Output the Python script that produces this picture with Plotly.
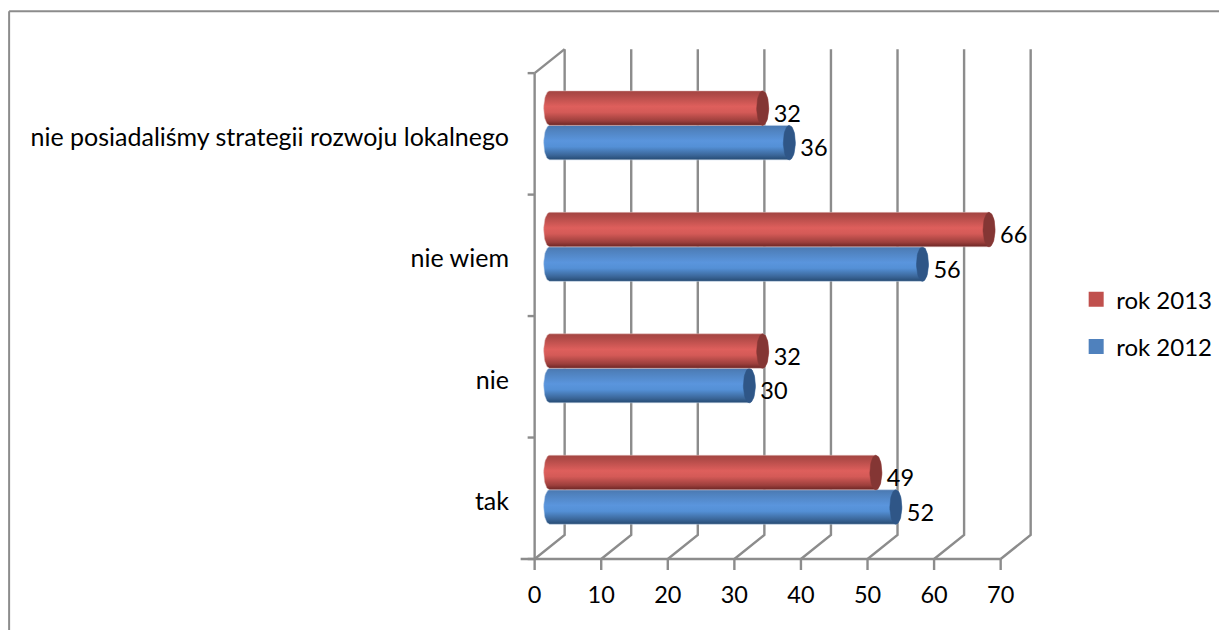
import plotly.graph_objects as go
import numpy as np

categories = ["tak", "nie", "nie wiem", "nie posiadaliśmy strategii rozwoju lokalnego"]
rok_2012 = [52, 30, 56, 36]
rok_2013 = [49, 32, 66, 32]
x_ticks = [0, 10, 20, 30, 40, 50, 60, 70]

# the page has an 8 px body margin: figure coordinates = screen - 8
PAGE = 8
W, H = 1227 - PAGE, 630 - PAGE
X0, X70 = 534.5, 1000.5
Y_BOTTOM, Y_TOP = 559.0, 73.0
PXU = (X70 - X0) / 70
PYU = (Y_BOTTOM - Y_TOP) / 4
DX = 30 / PXU
DY = 24 / PYU
BAR_DX = 15 / PXU
BAR_DY = 8.5 / PYU
BAR_H = 34.5 / PYU
CAP = 6 / PXU

x_min = -2.5
x_max = 70 + DX + 0.5
y_min = -12 / PYU
y_max = 4 + DY + 0.1
left = X0 + x_min * PXU
right = X0 + x_max * PXU
bot = Y_BOTTOM - y_min * PYU
top = Y_BOTTOM - y_max * PYU

GRID = "#8c8c8c"
fig = go.Figure()

def line(xs, ys, width=2.4):
    fig.add_trace(go.Scatter(x=xs, y=ys, mode="lines", showlegend=False, hoverinfo="skip",
                             line=dict(color=GRID, width=width)))

for t in x_ticks:
    line([t, t + DX, t + DX], [0, DY, 4 + DY])
    line([t, t], [0, -11 / PYU])
line([-14 / PXU, 70], [0, 0])
line([0, 0], [0, 4])
line([0, DX], [4, 4 + DY])
for k in range(0, 5):
    line([-7 / PXU, 0], [k, k])

RED = [[0, "#6b2524"], [0.13, "#9c3f3c"], [0.38, "#d45a57"], [0.55, "#de5f5c"], [0.88, "#b04a47"], [1, "#a34542"]]
BLUE = [[0, "#254a72"], [0.13, "#3a6597"], [0.38, "#5490d6"], [0.55, "#5a95dd"], [0.88, "#4f81bd"], [1, "#4a78b0"]]
RED_CAP = "#843634"
BLUE_CAP = "#2f5687"

th = np.linspace(-np.pi / 2, np.pi / 2, 25)

def cylinder(v, yc, scale, cap_color, edge):
    xr = v + BAR_DX
    xl = BAR_DX
    half = BAR_H / 2
    px = np.r_[xr + CAP * np.cos(th), xl - CAP * np.cos(th[::-1]), xr]
    py = np.r_[yc + half * np.sin(th), yc + half * np.sin(th[::-1]), yc - half]
    fig.add_trace(go.Scatter(x=px, y=py, mode="lines", fill="toself", showlegend=False, hoverinfo="skip",
                             line=dict(color=edge, width=0.5),
                             fillgradient=dict(type="vertical", colorscale=scale)))
    cx = np.r_[xr + CAP * np.cos(th), xr - CAP * np.cos(th[::-1])]
    cy = np.r_[yc + half * np.sin(th), yc + half * np.sin(th[::-1])]
    fig.add_trace(go.Scatter(x=cx, y=cy, mode="lines", fill="toself", fillcolor=cap_color, showlegend=False,
                             hoverinfo="skip", line=dict(color=cap_color, width=0.5)))

for i in range(len(categories)):
    yc = i + 0.5 + BAR_DY
    cylinder(rok_2012[i], yc - BAR_H / 2, BLUE, BLUE_CAP, "#c6d6ea")
    cylinder(rok_2013[i], yc + BAR_H / 2, RED, RED_CAP, "#e6c4c3")

NUM_FONT = dict(family="Lato", size=23.5, color="black")
fig.add_trace(go.Scatter(x=[v + BAR_DX + CAP + 5 / PXU for v in rok_2012],
                         y=[i + 0.5 + BAR_DY - BAR_H / 2 - 8 / PYU for i in range(4)],
                         mode="text", text=[str(v) for v in rok_2012], textposition="middle right",
                         textfont=NUM_FONT, showlegend=False, hoverinfo="skip"))
fig.add_trace(go.Scatter(x=[v + BAR_DX + CAP + 5 / PXU for v in rok_2013],
                         y=[i + 0.5 + BAR_DY + BAR_H / 2 - 8 / PYU for i in range(4)],
                         mode="text", text=[str(v) for v in rok_2013], textposition="middle right",
                         textfont=NUM_FONT, showlegend=False, hoverinfo="skip"))

fig.add_trace(go.Scatter(x=[None], y=[None], name="rok 2013", mode="markers", legendgroup="a",
                         marker=dict(symbol="square", size=15, color="#c0504d")))
fig.add_trace(go.Scatter(x=[None], y=[None], name="rok 2012", mode="markers", legendgroup="b",
                         marker=dict(symbol="square", size=15, color="#4f81bd")))

def px_x(p):
    return (p - left) / (right - left)

def px_y(p):
    return (bot - p) / (bot - top)

fig.update_layout(
    width=W, height=H, autosize=False,
    paper_bgcolor="white", plot_bgcolor="white",
    margin=dict(l=left - PAGE, r=W - (right - PAGE), t=top - PAGE, b=H - (bot - PAGE), autoexpand=False),
    font=dict(family="Lato", size=23.5, color="black"),
    xaxis=dict(range=[x_min, x_max], showgrid=False, zeroline=False, showline=False, ticks="", automargin=False,
               tickmode="array", tickvals=x_ticks, ticktext=[str(t) for t in x_ticks],
               ticklabelstandoff=7),
    yaxis=dict(range=[y_min, y_max], showgrid=False, zeroline=False, showline=False, ticks="", automargin=False,
               tickmode="array", tickvals=[i + 0.5 - 3 / PYU for i in range(4)],
               ticktext=categories, tickfont=dict(family="Lato", size=25, color="black"), ticklabelstandoff=8),
    legend=dict(x=px_x(1076), y=px_y(277), xanchor="left", yanchor="top",
                traceorder="grouped", font=dict(family="Lato", size=24), itemsizing="trace",
                tracegroupgap=13, bgcolor="rgba(0,0,0,0)"),
    shapes=[dict(type="line", xref="paper", yref="paper", layer="below",
                 x0=px_x(9), x1=px_x(1240), y0=px_y(11), y1=px_y(11),
                 line=dict(color="#8c8c8c", width=2)),
            dict(type="line", xref="paper", yref="paper", layer="below",
                 x0=px_x(9), x1=px_x(9), y0=px_y(11), y1=px_y(640),
                 line=dict(color="#8c8c8c", width=2))],
)
fig.write_html("out.html")
